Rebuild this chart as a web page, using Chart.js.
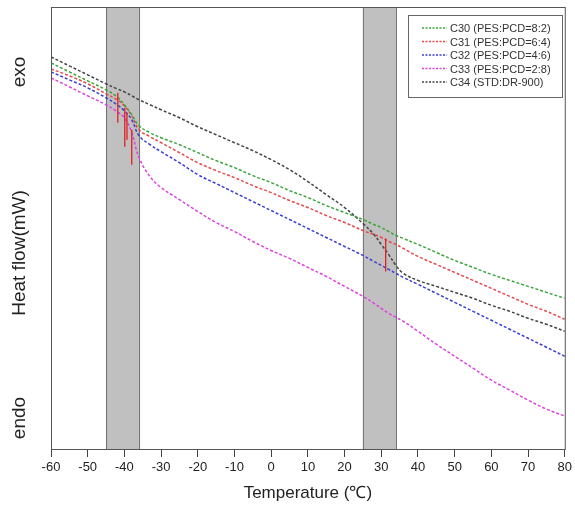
<!DOCTYPE html>
<html>
<head>
<meta charset="utf-8">
<script src="https://cdn.jsdelivr.net/npm/chart.js@4"></script>
<style>
  body { margin: 0; background: #fff; }
</style>
</head>
<body>
<canvas id="dscChart" width="575" height="510"></canvas>
<script>
// temperature points (deg C)
const temps = [-60, -55, -50, -45, -42, -40, -38, -36, -33, -30, -25, -20, -15, -10, -5, 0, 5, 10, 15, 20, 25, 28, 30, 32, 34, 36, 40, 45, 50, 55, 60, 65, 70, 75, 80];

// heat flow, arbitrary units
const c30 = [38.7, 37.8, 36.9, 36.0, 35.3, 34.5, 33.5, 32.4, 31.7, 31.2, 30.5, 29.7, 28.9, 28.2, 27.4, 26.7, 25.9, 25.2, 24.4, 23.7, 23.0, 22.5, 22.2, 21.8, 21.4, 21.1, 20.5, 19.7, 18.9, 18.2, 17.5, 16.9, 16.3, 15.7, 15.1];
const c31 = [38.1, 37.4, 36.6, 35.6, 35.0, 34.4, 33.4, 32.0, 31.3, 30.7, 29.7, 28.7, 27.9, 27.2, 26.4, 25.7, 24.9, 24.2, 23.4, 22.7, 21.9, 21.5, 21.2, 20.8, 20.5, 20.1, 19.3, 18.5, 17.7, 16.9, 16.1, 15.3, 14.5, 13.8, 13.0];
const c32 = [37.8, 37.0, 36.2, 35.2, 34.5, 33.9, 33.0, 31.4, 30.5, 29.8, 28.7, 27.5, 26.6, 25.7, 24.8, 23.9, 23.0, 22.1, 21.2, 20.3, 19.4, 18.8, 18.4, 18.0, 17.6, 17.2, 16.5, 15.6, 14.7, 13.8, 12.9, 12.0, 11.1, 10.2, 9.3];
const c33 = [37.2, 36.3, 35.4, 34.5, 33.8, 33.2, 31.7, 29.2, 27.3, 26.2, 25.0, 23.8, 22.7, 21.8, 20.8, 19.9, 19.1, 18.2, 17.3, 16.3, 15.3, 14.6, 14.1, 13.6, 13.2, 12.8, 11.8, 10.5, 9.3, 8.1, 6.9, 5.9, 4.9, 4.0, 3.3];
const c34 = [39.3, 38.4, 37.5, 36.6, 36.1, 35.8, 35.4, 35.0, 34.5, 34.0, 33.2, 32.3, 31.5, 30.7, 29.9, 29.0, 28.0, 26.8, 25.5, 24.2, 22.6, 21.5, 20.5, 19.5, 18.4, 17.6, 16.9, 16.3, 15.7, 15.1, 14.4, 13.8, 13.1, 12.5, 11.8];

const seriesNames = ["C30 (PES:PCD=8:2)", "C31 (PES:PCD=6:4)", "C32 (PES:PCD=4:6)", "C33 (PES:PCD=2:8)", "C34 (STD:DR-900)"];
const seriesColors = ["#3aa53a", "#e84848", "#3c3cd8", "#e040e0", "#444444"];

// Tg marks (red vertical bars)
const tgTemps = [-41.8, -39.9, -39.3, -38.0, 31.2];
const tgHigh = [35.7, 34.2, 33.7, 32.0, 21.1];
const tgLow = [32.7, 30.3, 31.0, 28.5, 17.8];

// gray transition bands
const bandStart = [-45, 25];
const bandEnd = [-36, 34];

const xTicks = [-60, -50, -40, -30, -20, -10, 0, 10, 20, 30, 40, 50, 60, 70, 80];

const toPoints = (ys) => ys.map((y, i) => ({ x: temps[i], y: y }));

const datasets = [c30, c31, c32, c33, c34].map((ys, i) => ({
    label: seriesNames[i],
    data: toPoints(ys),
    borderColor: seriesColors[i],
    borderWidth: 1.5,
    borderDash: [3, 2],
    pointRadius: 0,
    tension: 0.4,
    order: 1,
}));

tgTemps.forEach((t, i) => {
    datasets.push({
        label: "tg",
        data: [{ x: t, y: tgHigh[i] }, { x: t, y: tgLow[i] }],
        borderColor: "#e02020",
        borderWidth: 1.3,
        pointRadius: 0,
        order: 0,
    });
});

// bands, frame, side labels and boxed legend
const decorPlugin = {
    id: "decor",
    beforeDatasetsDraw(chart) {
        const { ctx, chartArea, scales } = chart;
        ctx.save();
        bandStart.forEach((s, i) => {
            const x1 = scales.x.getPixelForValue(s);
            const x2 = scales.x.getPixelForValue(bandEnd[i]);
            ctx.fillStyle = "#c0c0c0";
            ctx.fillRect(x1, chartArea.top, x2 - x1, chartArea.bottom - chartArea.top);
            ctx.strokeStyle = "#707070";
            ctx.lineWidth = 1;
            ctx.beginPath();
            ctx.moveTo(x1 + 0.5, chartArea.top);
            ctx.lineTo(x1 + 0.5, chartArea.bottom);
            ctx.moveTo(x2 + 0.5, chartArea.top);
            ctx.lineTo(x2 + 0.5, chartArea.bottom);
            ctx.stroke();
        });
        ctx.restore();
    },
    afterDatasetsDraw(chart) {
        const { ctx, chartArea } = chart;
        ctx.save();
        ctx.strokeStyle = "#555";
        ctx.lineWidth = 1;
        ctx.strokeRect(chartArea.left + 0.5, chartArea.top + 0.5,
            chartArea.right - chartArea.left, chartArea.bottom - chartArea.top);

        // y side texts
        ctx.fillStyle = "#222";
        ctx.font = "19px 'Liberation Sans', Arial, sans-serif";
        ctx.textAlign = "center";
        ctx.textBaseline = "middle";
        [["exo", 72], ["Heat flow(mW)", 253], ["endo", 418]].forEach(([txt, y]) => {
            ctx.save();
            ctx.translate(20, y);
            ctx.rotate(-Math.PI / 2);
            ctx.fillText(txt, 0, 0);
            ctx.restore();
        });

        // legend box
        const bx = 408, by = 15, bw = 154, bh = 82;
        ctx.fillStyle = "#fff";
        ctx.fillRect(bx, by, bw, bh);
        ctx.strokeStyle = "#666";
        ctx.strokeRect(bx + 0.5, by + 0.5, bw, bh);
        ctx.font = "11px 'Liberation Sans', Arial, sans-serif";
        ctx.textAlign = "left";
        seriesNames.forEach((name, i) => {
            const y = by + 13 + i * 13.5;
            ctx.strokeStyle = seriesColors[i];
            ctx.lineWidth = 1.5;
            ctx.setLineDash([2, 1.5]);
            ctx.beginPath();
            ctx.moveTo(bx + 14, y);
            ctx.lineTo(bx + 39, y);
            ctx.stroke();
            ctx.setLineDash([]);
            ctx.fillStyle = "#333";
            ctx.fillText(name, bx + 42, y + 1);
        });
        ctx.restore();
    },
};

new Chart(document.getElementById("dscChart"), {
    type: "line",
    data: { datasets },
    options: {
        responsive: false,
        animation: false,
        devicePixelRatio: 1,
        layout: { padding: { left: 51, right: 9, top: 7, bottom: 6 } },
        plugins: {
            legend: { display: false },
            tooltip: { enabled: false },
        },
        scales: {
            x: {
                type: "linear",
                min: -60,
                max: 80,
                afterBuildTicks: (axis) => {
                    axis.ticks = xTicks.map((v) => ({ value: v }));
                },
                ticks: {
                    color: "#222",
                    font: { family: "'Liberation Sans', Arial, sans-serif", size: 13 },
                    padding: 3,
                    maxRotation: 0,
                    autoSkip: false,
                },
                grid: {
                    drawOnChartArea: false,
                    drawTicks: true,
                    tickLength: 8,
                    color: "#444",
                },
                border: { color: "#444" },
                title: {
                    display: true,
                    text: "Temperature (℃)",
                    color: "#222",
                    font: { family: "'Liberation Sans', Arial, sans-serif", size: 17 },
                    padding: { top: 5, bottom: 0 },
                },
            },
            y: {
                display: false,
                min: 0,
                max: 44.3,
            },
        },
    },
    plugins: [decorPlugin],
});
</script>
</body>
</html>
